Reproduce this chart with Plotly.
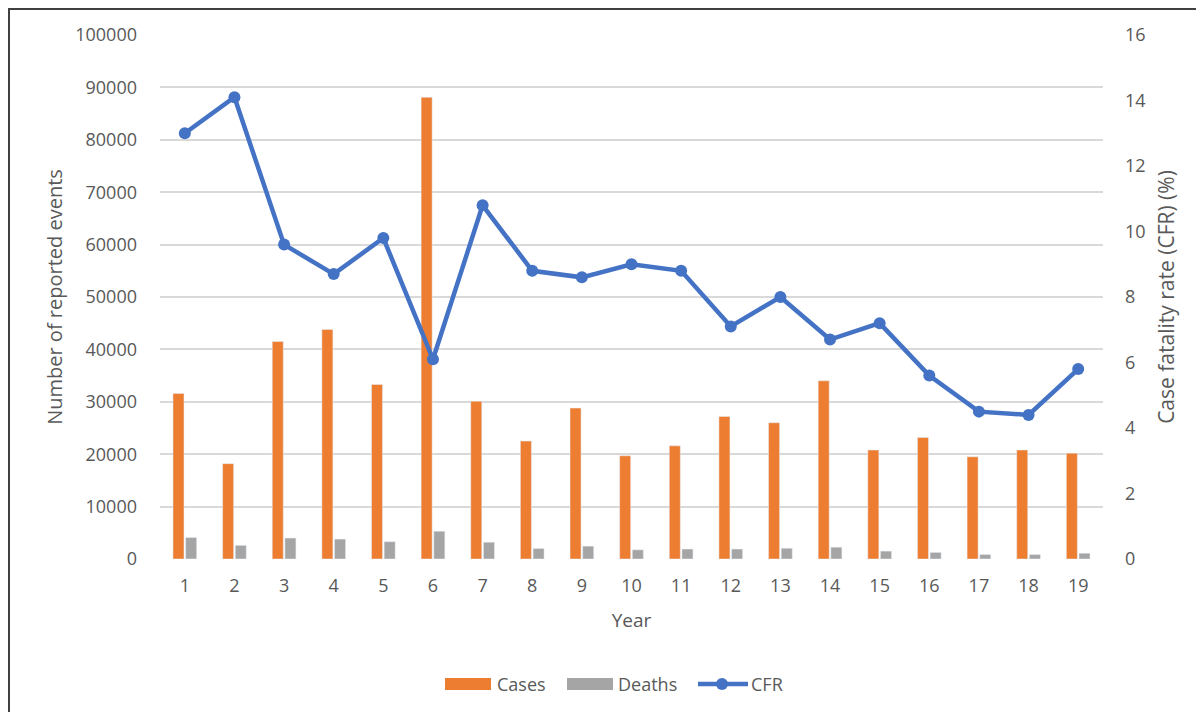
import plotly.graph_objects as go

# 데이터
years = list(range(1, 20))
cases = [31600, 18200, 41500, 43800, 33300, 88100, 30100, 22500, 28800, 19700,
         21600, 27200, 26000, 34000, 20800, 23200, 19500, 20800, 20200]
deaths = [4100, 2600, 4000, 3800, 3300, 5300, 3200, 2000, 2450, 1750,
          1900, 1900, 2050, 2250, 1500, 1250, 850, 850, 1100]
cfr = [13.0, 14.1, 9.6, 8.7, 9.8, 6.1, 10.8, 8.8, 8.6, 9.0,
       8.8, 7.1, 8.0, 6.7, 7.2, 5.6, 4.5, 4.4, 5.8]

ORANGE = "#ED7D31"
GRAY = "#A5A5A5"
BLUE = "#4472C4"
TXT = "#595959"
FONT = "Open Sans"

# 페이지 body 여백(8px) 보정
OFF = 8
W, H = 1204 - OFF, 712 - OFF
L, R, T, B = 160 - OFF, 1103 - OFF, 35 - OFF, 559 - OFF


def px(x):
    return (x - OFF - L) / (R - L)


def py(y):
    return (B - (y - OFF)) / (B - T)


fig = go.Figure()

fig.add_trace(go.Bar(x=years, y=cases, name="Cases", marker={"color": ORANGE}, showlegend=False))
fig.add_trace(go.Bar(x=years, y=deaths, name="Deaths", marker={"color": GRAY}, showlegend=False))
fig.add_trace(
    go.Scatter(
        x=years,
        y=cfr,
        name="CFR",
        mode="lines+markers",
        line={"color": BLUE, "width": 4.5},
        marker={"color": BLUE, "size": 12},
        yaxis="y2",
        showlegend=False,
    )
)

# 범례 (엑셀 스타일)
shapes = [
    {"type": "rect", "xref": "paper", "yref": "paper", "x0": px(445), "x1": px(491),
     "y0": py(690), "y1": py(678), "fillcolor": ORANGE, "line": {"width": 0}},
    {"type": "rect", "xref": "paper", "yref": "paper", "x0": px(567), "x1": px(613),
     "y0": py(690), "y1": py(678), "fillcolor": GRAY, "line": {"width": 0}},
    {"type": "line", "xref": "paper", "yref": "paper", "x0": px(698), "x1": px(748),
     "y0": py(684), "y1": py(684), "line": {"color": BLUE, "width": 4.5}},
    {"type": "circle", "xref": "paper", "yref": "paper", "x0": px(716), "x1": px(728),
     "y0": py(690), "y1": py(678), "fillcolor": BLUE, "line": {"width": 0}},
    # 테두리 (좌측, 상단)
    {"type": "line", "xref": "paper", "yref": "paper", "x0": px(9), "x1": px(9),
     "y0": py(712), "y1": py(8), "line": {"color": "#404040", "width": 2}},
    {"type": "line", "xref": "paper", "yref": "paper", "x0": px(8), "x1": px(1204),
     "y0": py(9), "y1": py(9), "line": {"color": "#404040", "width": 2}},
]

annotations = []
for label, x in [("Cases", 495), ("Deaths", 616), ("CFR", 749)]:
    annotations.append(
        {"text": label, "xref": "paper", "yref": "paper", "x": px(x), "y": py(684),
         "xanchor": "left", "yanchor": "middle", "showarrow": False,
         "font": {"family": FONT, "size": 18, "color": TXT}}
    )

fig.update_layout(
    width=W,
    height=H,
    margin={"l": L, "r": W - R, "t": T, "b": H - B},
    plot_bgcolor="white",
    paper_bgcolor="white",
    font={"family": FONT, "color": TXT, "size": 18},
    barmode="group",
    bargap=0.49,
    bargroupgap=0.13,
    shapes=shapes,
    annotations=annotations,
    xaxis={
        "range": [0.5, 19.5],
        "tickmode": "array",
        "tickvals": years,
        "ticktext": [str(y) for y in years],
        "showgrid": False,
        "zeroline": False,
        "showline": False,
        "ticklabelstandoff": 14,
        "tickfont": {"size": 18, "color": TXT},
        "title": {"text": "Year", "font": {"size": 19, "color": TXT}, "standoff": 17},
        "automargin": False,
    },
    yaxis={
        "range": [0, 100000],
        "dtick": 10000,
        "tickformat": "d",
        "gridcolor": "#D9D9D9",
        "gridwidth": 1.5,
        "zeroline": False,
        "showline": False,
        "ticklabelstandoff": 22,
        "tickfont": {"size": 18, "color": TXT},
        "title": {"text": "Number of reported events", "font": {"size": 20, "color": TXT}, "standoff": 7},
        "automargin": False,
    },
    yaxis2={
        "range": [0, 16],
        "dtick": 2,
        "overlaying": "y",
        "side": "right",
        "showgrid": False,
        "zeroline": False,
        "showline": False,
        "ticklabelstandoff": 21,
        "tickfont": {"size": 18, "color": TXT},
        "title": {"text": "Case fatality rate (CFR) (%)", "font": {"size": 21, "color": TXT}, "standoff": 14},
        "automargin": False,
    },
)

fig.write_html("out.html")
